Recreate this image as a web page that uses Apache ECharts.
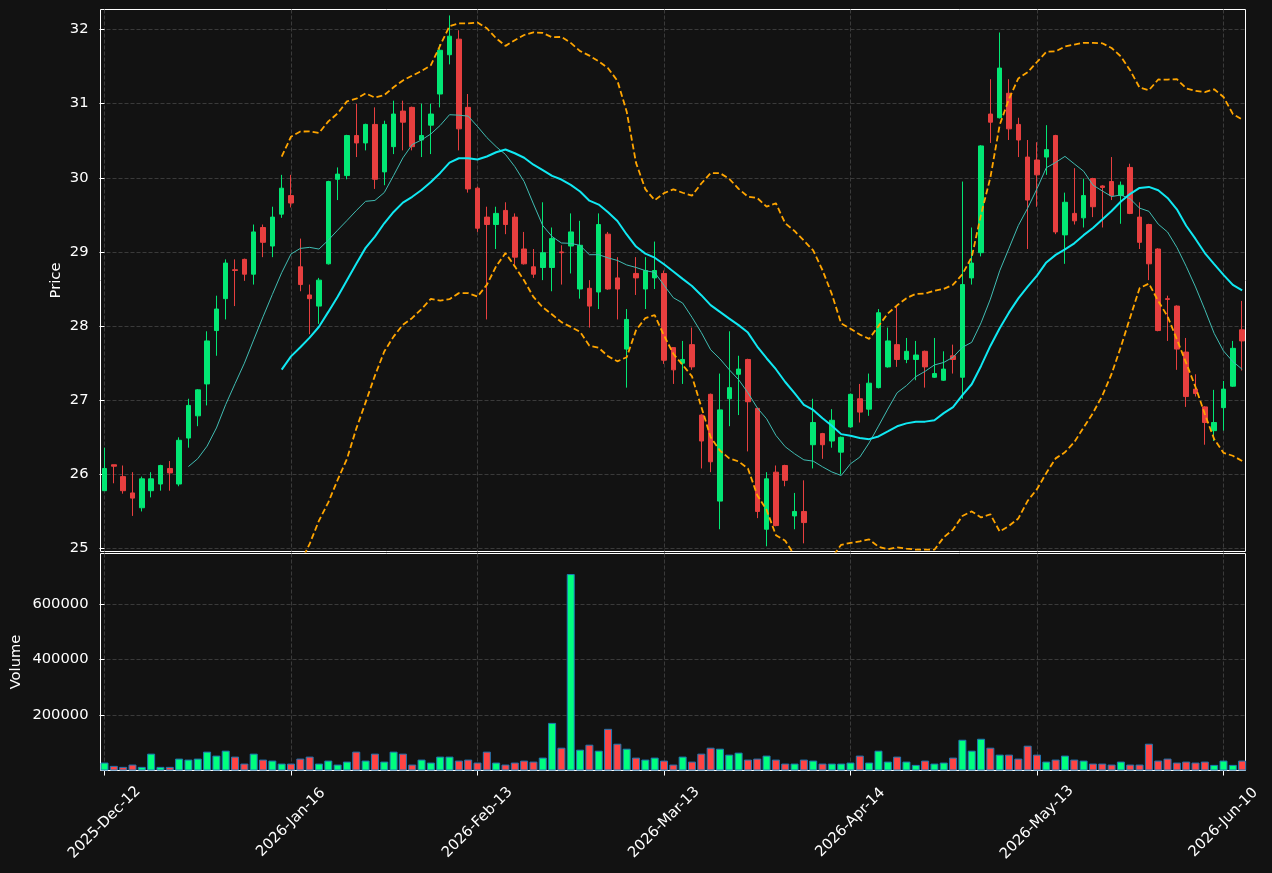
<!DOCTYPE html>
<html>
<head>
<meta charset="utf-8">
<script src="https://cdn.jsdelivr.net/npm/echarts@6/dist/echarts.min.js"></script>
<style>
html, body { margin: 0; padding: 0; background: #121212; }
#chart { width: 1272px; height: 873px; }
</style>
</head>
<body>
<div id="chart"></div>
<script>
// tick labels on the date axis, one every 20 sessions
var tickLabels = ['2025-Dec-12', '2026-Jan-16', '2026-Feb-13', '2026-Mar-13', '2026-Apr-14', '2026-May-13', '2026-Jun-10'];
var tickIndex = [0, 20, 40, 60, 80, 100, 120];
var priceTicks = [25, 26, 27, 28, 29, 30, 31, 32];
var volumeTicks = [200000, 400000, 600000];

var opens = [25.78, 26.13, 25.97, 25.75, 25.55, 25.78, 25.87, 26.08, 25.87, 26.49,
    26.79, 27.22, 27.94, 28.37, 28.76, 28.90, 28.70, 29.33, 29.08, 29.51,
    29.76, 28.80, 28.42, 28.27, 28.84, 29.98, 30.03, 30.57, 30.47, 30.72,
    30.08, 30.42, 30.90, 30.95, 30.51, 30.71, 31.13, 31.66, 31.87, 30.95,
    29.86, 29.47, 29.37, 29.56, 29.47, 29.04, 28.80, 28.79, 28.79, 29.00,
    29.08, 28.50, 28.51, 28.46, 29.24, 28.65, 27.69, 28.71, 28.50, 28.65,
    28.71, 27.71, 27.50, 27.75, 26.80, 27.08, 25.64, 27.02, 27.35, 27.55,
    26.89, 25.26, 26.03, 26.12, 25.44, 25.50, 26.40, 26.55, 26.45, 26.30,
    26.64, 27.02, 26.88, 27.17, 27.45, 27.75, 27.55, 27.55, 27.66, 27.31,
    27.27, 27.60, 27.31, 28.65, 28.99, 30.86, 30.81, 31.14, 30.72, 30.28,
    30.24, 30.28, 30.57, 29.23, 29.52, 29.46, 29.99, 29.89, 29.95, 29.76,
    30.14, 29.47, 29.37, 29.04, 28.37, 28.27, 27.65, 27.15, 26.91, 26.59,
    26.90, 27.19, 27.95];
var highs = [26.36, 26.13, 26.12, 26.03, 25.97, 26.03, 26.13, 26.18, 26.50, 27.02,
    27.15, 27.93, 28.41, 28.90, 28.90, 28.91, 29.37, 29.37, 29.61, 30.04,
    30.04, 29.18, 28.56, 28.65, 29.96, 30.14, 30.58, 31.00, 30.73, 30.95,
    30.77, 31.04, 31.04, 30.96, 31.00, 31.00, 31.80, 32.19, 31.99, 31.13,
    29.88, 29.61, 29.61, 29.67, 29.52, 29.27, 29.04, 29.67, 29.33, 29.09,
    29.52, 29.42, 28.62, 29.52, 29.27, 28.93, 28.23, 28.93, 28.93, 29.14,
    28.75, 27.71, 27.80, 27.98, 26.81, 27.09, 27.36, 27.93, 27.60, 27.56,
    26.90, 26.03, 26.12, 26.13, 25.75, 25.92, 27.02, 26.56, 26.88, 26.51,
    27.09, 27.22, 27.36, 28.23, 27.98, 28.27, 27.84, 27.80, 27.67, 27.84,
    27.66, 27.75, 29.95, 29.33, 30.44, 31.33, 31.96, 31.33, 30.81, 30.51,
    30.48, 30.71, 30.58, 29.80, 30.13, 29.99, 30.00, 29.90, 30.28, 29.95,
    30.19, 29.67, 29.38, 29.05, 28.41, 28.28, 27.84, 27.35, 26.92, 27.14,
    27.26, 27.80, 28.34];
var lows = [25.78, 25.88, 25.74, 25.44, 25.50, 25.69, 25.78, 25.78, 25.84, 26.36,
    26.65, 26.93, 27.60, 28.09, 28.27, 28.61, 28.56, 28.93, 28.93, 29.46,
    29.60, 28.47, 27.89, 28.03, 28.83, 29.70, 29.98, 30.28, 30.37, 29.85,
    29.90, 30.32, 30.37, 30.37, 30.28, 30.32, 30.95, 31.53, 30.37, 29.80,
    29.27, 28.09, 29.04, 29.24, 28.83, 28.83, 28.65, 28.62, 28.47, 28.56,
    28.71, 28.37, 27.98, 28.23, 28.49, 28.09, 27.17, 28.42, 28.23, 28.50,
    27.49, 27.22, 27.22, 27.41, 26.08, 26.03, 25.26, 26.65, 26.80, 26.31,
    25.41, 25.03, 25.30, 25.84, 25.26, 25.07, 26.08, 26.21, 26.36, 26.00,
    26.63, 26.70, 26.79, 27.16, 27.44, 27.45, 27.50, 27.27, 27.17, 27.30,
    27.26, 27.36, 27.02, 28.56, 28.94, 30.47, 30.80, 30.51, 30.28, 29.04,
    29.61, 30.04, 29.24, 28.84, 29.37, 29.33, 29.47, 29.33, 29.70, 29.38,
    29.51, 29.04, 28.62, 27.93, 27.80, 27.41, 26.91, 27.05, 26.40, 26.45,
    26.59, 27.18, 27.40];
var closes = [26.08, 26.11, 25.78, 25.68, 25.94, 25.94, 26.12, 26.02, 26.46, 26.93,
    27.14, 27.80, 28.23, 28.85, 28.75, 28.70, 29.27, 29.13, 29.47, 29.86,
    29.66, 28.56, 28.37, 28.62, 29.95, 30.05, 30.57, 30.47, 30.72, 29.98,
    30.72, 30.86, 30.75, 30.42, 30.57, 30.86, 31.72, 31.91, 30.66, 29.85,
    29.32, 29.37, 29.52, 29.37, 28.93, 28.84, 28.70, 28.99, 29.18, 28.99,
    29.27, 29.09, 28.27, 29.37, 28.50, 28.50, 28.09, 28.65, 28.75, 28.75,
    27.54, 27.41, 27.55, 27.45, 26.45, 26.17, 26.87, 27.17, 27.42, 26.98,
    25.50, 25.94, 25.31, 25.92, 25.50, 25.35, 26.70, 26.40, 26.73, 26.50,
    27.08, 26.84, 27.23, 28.18, 27.80, 27.55, 27.66, 27.61, 27.45, 27.36,
    27.42, 27.55, 28.56, 28.85, 30.43, 30.75, 31.48, 30.66, 30.51, 29.70,
    30.04, 30.38, 29.27, 29.67, 29.42, 29.76, 29.61, 29.87, 29.76, 29.90,
    29.52, 29.13, 28.84, 27.94, 28.36, 27.69, 27.05, 27.09, 26.70, 26.70,
    27.15, 27.70, 27.80];
var volumes = [28600, 16700, 13100, 21400, 13100, 60700, 13100, 13100, 42900, 39300,
    42900, 67900, 53600, 71400, 50000, 25000, 60700, 39300, 35700, 25000,
    25000, 42900, 50000, 25000, 35700, 21400, 32100, 67900, 35700, 60700,
    32100, 67900, 60700, 21400, 39300, 28600, 50000, 50000, 35700, 39300,
    28600, 67900, 28600, 21400, 28600, 35700, 32100, 46400, 171400, 82100,
    707100, 75000, 92900, 71400, 150000, 96400, 78600, 46400, 39300, 46400,
    35700, 21400, 50000, 32100, 60700, 82100, 78600, 57100, 64300, 39300,
    42900, 53600, 39300, 25000, 25000, 39300, 35700, 25000, 25000, 25000,
    28600, 53600, 28600, 71400, 32100, 50000, 32100, 20200, 35700, 25000,
    28600, 46400, 110700, 71400, 114300, 82100, 57100, 57100, 42900, 89300,
    57100, 32100, 39300, 53600, 39300, 35700, 25000, 25000, 21400, 32100,
    21400, 21400, 96400, 35700, 42900, 28600, 32100, 28600, 32100, 20200,
    35700, 20200, 35700];

// moving average and bollinger bands over the closes
function rollingStats(n) {
    var ma = [], up = [], lo = [];
    for (var i = n - 1; i < closes.length; i++) {
        var win = closes.slice(i - n + 1, i + 1);
        var m = win.reduce(function (a, b) { return a + b; }, 0) / n;
        var v = win.reduce(function (a, b) { return a + (b - m) * (b - m); }, 0) / n;
        var sd = Math.sqrt(v);
        ma.push([i, m]);
        up.push([i, m + 2 * sd]);
        lo.push([i, m - 2 * sd]);
    }
    return { ma: ma, up: up, lo: lo };
}
var s10 = rollingStats(10);
var s20 = rollingStats(20);

var upCandle = '#02e774', downCandle = '#e73f3f';
var upVol = '#00ff7f', downVol = '#ff4444';
var gridColor = '#3a3a3a';
var font = 'DejaVu Sans';
var fs = 14.7;

var chart = echarts.init(document.getElementById('chart'));

var candleData = opens.map(function (o, i) { return [i, o, closes[i], lows[i], highs[i]]; });
var volData = volumes.map(function (v, i) {
    return {
        value: [i, v],
        itemStyle: { color: closes[i] >= opens[i] ? upVol : downVol }
    };
});

function xAxisFor(gridIndex, showLabels) {
    return {
        type: 'value',
        gridIndex: gridIndex,
        min: -0.43,
        max: 122.36,
        axisLine: { show: false },
        axisTick: {
            show: showLabels,
            customValues: tickIndex,
            length: 5,
            lineStyle: { color: '#ffffff' }
        },
        axisLabel: {
            show: showLabels,
            customValues: tickIndex,
            rotate: 45,
            align: 'center',
            verticalAlign: 'middle',
            margin: 52,
            color: '#ffffff',
            fontFamily: font,
            fontSize: fs,
            formatter: function (v) { return tickLabels[tickIndex.indexOf(Math.round(v))] || ''; }
        },
        splitLine: { show: true, lineStyle: { color: gridColor, type: [4, 2], width: 1 } }
    };
}

var option = {
    backgroundColor: '#121212',
    animation: false,
    grid: [
        { left: 100.5, top: 9.5, width: 1145, height: 542, outerBoundsMode: 'none', show: true, backgroundColor: '#121212', borderColor: '#ffffff', borderWidth: 1 },
        { left: 100.5, top: 553.5, width: 1145, height: 217, outerBoundsMode: 'none', show: true, backgroundColor: '#121212', borderColor: '#ffffff', borderWidth: 1 }
    ],
    xAxis: [xAxisFor(0, false), xAxisFor(1, true)],
    yAxis: [
        {
            type: 'value',
            gridIndex: 0,
            min: 24.96,
            max: 32.27,
            name: 'Price',
            nameLocation: 'middle',
            nameGap: 37,
            nameMoveOverlap: false,
            nameTextStyle: { color: '#ffffff', fontFamily: font, fontSize: fs },
            axisLine: { show: false },
            axisTick: { show: true, customValues: priceTicks, length: 5, lineStyle: { color: '#ffffff' } },
            axisLabel: { customValues: priceTicks, color: '#ffffff', fontFamily: font, fontSize: fs, margin: 12 },
            splitLine: { show: true, lineStyle: { color: gridColor, type: [4, 2], width: 1 } }
        },
        {
            type: 'value',
            gridIndex: 1,
            min: 0,
            max: 781000,
            name: 'Volume',
            nameLocation: 'middle',
            nameGap: 77,
            nameMoveOverlap: false,
            nameTextStyle: { color: '#ffffff', fontFamily: font, fontSize: fs },
            axisLine: { show: false },
            axisTick: { show: true, customValues: volumeTicks, length: 5, lineStyle: { color: '#ffffff' } },
            axisLabel: {
                customValues: volumeTicks, color: '#ffffff', fontFamily: font, fontSize: fs, margin: 12,
                formatter: function (v) { return String(Math.round(v)); }
            },
            splitLine: { show: true, lineStyle: { color: gridColor, type: [4, 2], width: 1 } }
        }
    ],
    series: [
        {
            type: 'candlestick',
            xAxisIndex: 0,
            yAxisIndex: 0,
            data: candleData,
            encode: { x: 0, y: [1, 2, 3, 4] },
            barWidth: 5,
            itemStyle: {
                color: upCandle,
                color0: downCandle,
                borderColor: upCandle,
                borderColor0: downCandle,
                borderWidth: 1
            },
            z: 3
        },
        {
            name: 'MA10', type: 'line', xAxisIndex: 0, yAxisIndex: 0,
            data: s10.ma, showSymbol: false, symbol: 'none',
            lineStyle: { color: '#40bcb2', width: 1 }, z: 4
        },
        {
            name: 'MA20', type: 'line', xAxisIndex: 0, yAxisIndex: 0,
            data: s20.ma, showSymbol: false, symbol: 'none',
            lineStyle: { color: '#10e8f2', width: 2 }, z: 4
        },
        {
            name: 'BB upper', type: 'line', xAxisIndex: 0, yAxisIndex: 0,
            data: s20.up, showSymbol: false, symbol: 'none', clip: true,
            lineStyle: { color: '#ffa500', width: 1.8, type: [6, 3] }, z: 4
        },
        {
            name: 'BB lower', type: 'line', xAxisIndex: 0, yAxisIndex: 0,
            data: s20.lo, showSymbol: false, symbol: 'none', clip: true,
            lineStyle: { color: '#ffa500', width: 1.8, type: [6, 3] }, z: 4
        },
        {
            type: 'bar',
            xAxisIndex: 1,
            yAxisIndex: 1,
            data: volData,
            barWidth: 8,
            itemStyle: { borderColor: '#1f77b4', borderWidth: 1 }
        }
    ]
};

chart.setOption(option);
</script>
</body>
</html>
